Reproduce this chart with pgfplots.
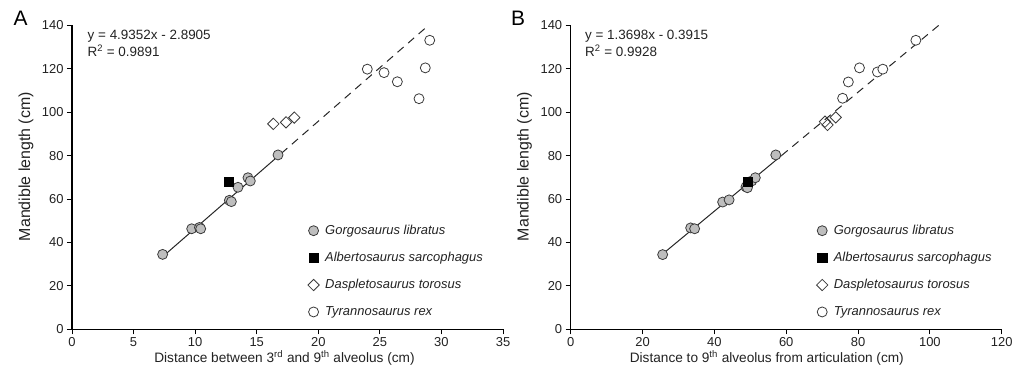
\documentclass[border=0pt]{standalone}
\usepackage{pgfplots}
\pgfplotsset{compat=1.18}
\usepackage{fontspec}
\setmainfont{Liberation Sans}
\definecolor{gfill}{HTML}{BEBEBE}
\definecolor{edge}{HTML}{3A3A3A}
\definecolor{txt}{HTML}{222222}
\pgfplotsset{
  panel/.style={
    scale only axis, width=431bp, height=304bp,
    ymin=0, ymax=140, ytick={0,20,...,140},
    axis lines*=left, axis line style={black, line width=1.3bp},
    tick align=outside, major tick length=5bp,
    tick style={black, line width=1bp},
    /pgf/number format/assume math mode=true,
    ticklabel style={font=\fontsize{13}{15}\selectfont, text=txt},
    every axis y label/.style={at={(axis description cs:-0.107,0.535)}, rotate=90, anchor=center, font=\fontsize{16}{18}\selectfont, text=txt},
    every axis x label/.style={at={(axis description cs:0.493,0)}, yshift=-28.7bp, anchor=center, font=\fontsize{13.7}{16}\selectfont, text=txt},
    clip=false,
    legend cell align=left,
    legend style={draw=none, fill=none, at={(0.540,0.356)}, anchor=north west,
      font=\fontsize{13}{14}\selectfont\itshape, text=txt, row sep=12.3bp, column sep=4bp},
  },
  gorgo/.style={only marks, mark=*, mark size=5bp, mark options={fill=gfill, draw=edge, line width=0.8bp}},
  alberto/.style={only marks, mark=square*, mark size=4.7bp, mark options={fill=black, draw=black, line width=0.6bp}},
  daspl/.style={only marks, mark=square, mark size=4bp, mark options={fill=white, draw=edge, line width=0.8bp, rotate=45}},
  trex/.style={only marks, mark=*, mark size=5bp, mark options={fill=white, draw=edge, line width=0.8bp}},
  fitsolid/.style={forget plot, no marks, color=black!85, line width=1bp},
  fitdash/.style={forget plot, no marks, color=black!85, line width=1bp, dash pattern=on 8bp off 6bp},
}
\begin{document}
\begin{tikzpicture}
\path[use as bounding box] (0,0) rectangle (1015bp,373bp);
\node[font=\fontsize{21}{23}\selectfont, text=black] at (20.5bp,354.5bp) {A};
\node[font=\fontsize{21}{23}\selectfont, text=black] at (518bp,354.5bp) {B};
\begin{axis}[panel, at={(72bp,43.7bp)}, anchor=south west,
  xmin=0, xmax=35, xtick={0,5,...,35},
  xlabel={Distance between 3\textsuperscript{rd} and 9\textsuperscript{th} alveolus (cm)},
  ylabel={Mandible length (cm)}]
\addplot[fitsolid] coordinates {(7.3,33.14) (17.0,81.01)};
\addplot[fitdash] coordinates {(17.0,81.01) (28.95,139.98)};
\addplot[gorgo] coordinates {(7.36,34.5) (9.72,46.3) (10.35,46.9) (10.45,46.3) (12.78,59.4) (12.94,58.8) (13.48,65.4) (14.29,69.8) (14.48,68.3) (16.73,80.3)};
\addplot[alberto] coordinates {(12.75,67.8)};
\addplot[daspl] coordinates {(16.35,94.6) (17.38,95.3) (18.05,97.5)};
\addplot[trex] coordinates {(23.98,119.8) (25.34,118.2) (26.42,114.0) (28.18,106.2) (28.69,120.4) (29.05,133.1)};
\legend{Gorgosaurus libratus, Albertosaurus sarcophagus, Daspletosaurus torosus, Tyrannosaurus rex}
\node[anchor=north west, align=left, font=\fontsize{13.5}{17}\selectfont, text=txt, inner sep=0pt] at (rel axis cs:0.036,0.985) {y = 4.9352x - 2.8905\\R\textsuperscript{2} = 0.9891};
\end{axis}
\begin{axis}[panel, at={(570.7bp,43.7bp)}, anchor=south west,
  xmin=0, xmax=120, xtick={0,20,...,120},
  every axis x label/.style={at={(axis description cs:0.455,0)}, yshift=-28.7bp, anchor=center, font=\fontsize{13.7}{16}\selectfont, text=txt},
  xlabel={Distance to 9\textsuperscript{th} alveolus from articulation (cm)},
  ylabel={Mandible length (cm)},
  legend style={at={(0.563,0.356)}}]
\addplot[fitsolid] coordinates {(25.6,34.68) (58.7,80.02)};
\addplot[fitdash] coordinates {(58.7,80.02) (102.9,140.56)};
\addplot[gorgo] coordinates {(25.6,34.4) (33.4,46.7) (34.5,46.3) (42.3,58.6) (44.1,59.6) (50.4,68.3) (48.8,65.6) (49.2,65.2) (51.4,69.8) (57.1,80.3)};
\addplot[alberto] coordinates {(49.3,67.8)};
\addplot[daspl] coordinates {(70.8,95.6) (71.5,94.1) (73.8,97.6)};
\addplot[trex] coordinates {(75.7,106.4) (77.3,113.9) (80.4,120.4) (85.4,118.5) (86.9,119.8) (96.1,133.1)};
\legend{Gorgosaurus libratus, Albertosaurus sarcophagus, Daspletosaurus torosus, Tyrannosaurus rex}
\node[anchor=north west, align=left, font=\fontsize{13.5}{17}\selectfont, text=txt, inner sep=0pt] at (rel axis cs:0.033,0.985) {y = 1.3698x - 0.3915\\R\textsuperscript{2} = 0.9928};
\end{axis}
\end{tikzpicture}
\end{document}
